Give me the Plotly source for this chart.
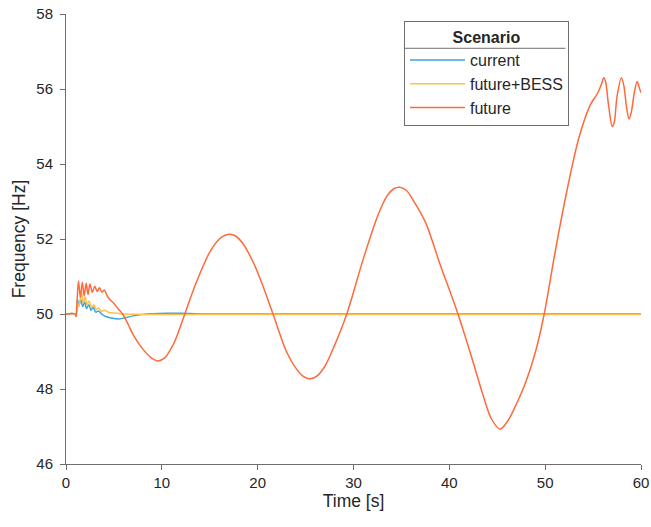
import plotly.graph_objects as go

# future scenario
t_future = [0, 0.95, 1.05, 1.15, 1.3, 1.5, 1.7, 1.9, 2.1, 2.3, 2.5, 2.75, 3.0, 3.25, 3.5, 3.75,
            4.0, 4.3, 4.6, 5.0, 5.5, 5.9, 6.5, 7.0, 8.0, 8.9, 9.6, 10.3, 10.9, 11.4, 12.4,
            13.5, 15, 16, 16.6, 17.1, 17.7, 18.4, 19.5, 20.5, 21.6,
            23, 24, 24.8, 25.5, 26.2, 27, 28, 29.3,
            31, 32.5, 33.5, 34.2, 34.8, 35.5, 36.3, 37.5, 39, 40.9,
            42.5, 43.5, 44.4, 45.3, 46.1, 47, 48, 49, 49.9,
            51, 52.2, 53.5, 54.7, 55.5, 55.9, 56.1, 56.3, 56.6, 57.0, 57.2, 57.5, 57.95,
            58.2, 58.5, 58.75, 59.0, 59.3, 59.6, 59.8, 60]
f_future = [50, 50, 49.93, 50.3, 50.88, 50.45, 50.85, 50.48, 50.82, 50.52, 50.80, 50.58, 50.74,
            50.6, 50.7, 50.58, 50.64, 50.48, 50.38, 50.28, 50.12, 50.0, 49.72, 49.45, 49.07,
            48.83, 48.75, 48.83, 49.05, 49.3, 50.0,
            50.78, 51.65, 52.0, 52.1, 52.13, 52.08, 51.9, 51.4, 50.78, 50.0,
            49.0, 48.55, 48.33, 48.27, 48.35, 48.6, 49.15, 50.0,
            51.45, 52.6, 53.15, 53.34, 53.38, 53.3, 53.0, 52.45, 51.35, 50.0,
            48.7, 47.85, 47.2, 46.93, 47.15, 47.6, 48.2, 49.0, 50.0,
            51.6, 53.2, 54.68, 55.57, 55.9, 56.15, 56.3, 56.2, 55.6, 55.0, 55.1, 55.8, 56.3,
            56.1, 55.5, 55.2, 55.4, 55.9, 56.2, 56.05, 55.9]

# current scenario
t_current = [0, 0.95, 1.05, 1.2, 1.35, 1.55, 1.75, 1.95, 2.15, 2.4, 2.6, 2.85, 3.1, 3.4, 3.8,
             4.3, 5.0, 5.5, 6.2, 7, 8, 9, 10.5, 12, 14, 20, 30, 40, 50, 60]
f_current = [50, 50, 49.95, 50.38, 50.22, 50.38, 50.2, 50.32, 50.15, 50.25, 50.1, 50.18, 50.05,
             50.08, 49.98, 49.92, 49.88, 49.87, 49.9, 49.95, 49.99, 50.01, 50.02, 50.02, 50.0,
             50.0, 50.0, 50.0, 50.0, 50.0]

# future+BESS scenario
t_bess = [0, 0.95, 1.05, 1.2, 1.35, 1.6, 1.8, 2.0, 2.2, 2.4, 2.65, 2.9, 3.15, 3.4, 3.7, 4.0,
          4.5, 5.0, 6, 8, 20, 30, 40, 50, 60]
f_bess = [50, 50, 49.95, 50.3, 50.2, 50.6, 50.3, 50.45, 50.25, 50.35, 50.18, 50.25, 50.12,
          50.16, 50.07, 50.1, 50.04, 50.03, 50.0, 49.99, 49.99, 49.99, 49.99, 49.99, 49.99]

x_ticks = [0, 10, 20, 30, 40, 50, 60]
y_ticks = [46, 48, 50, 52, 54, 56, 58]

FONT = "Liberation Sans, Arial, sans-serif"
TXT = "#262626"
AX = "#6e6e6e"

fig = go.Figure()
fig.add_trace(go.Scatter(x=t_current, y=f_current, mode="lines", name="current",
                         line=dict(color="#3BA3DD", width=1.5, shape="spline", smoothing=0.9)))
fig.add_trace(go.Scatter(x=t_bess, y=f_bess, mode="lines", name="future+BESS",
                         line=dict(color="#FFC04D", width=1.5, shape="spline", smoothing=0.9)))
fig.add_trace(go.Scatter(x=t_future, y=f_future, mode="lines", name="future",
                         line=dict(color="#FF6A3A", width=1.5, shape="spline", smoothing=0.9)))

axis_common = dict(showgrid=False, zeroline=False, showline=True, linecolor=AX,
                   linewidth=1, ticks="outside", ticklen=5, tickcolor=AX,
                   tickfont=dict(size=15, color=TXT, family=FONT), mirror=False,
                   automargin=False)

fig.update_xaxes(range=[0, 60], tickvals=x_ticks,
                 title=dict(text="Time [s]", font=dict(size=17.5, color=TXT, family=FONT),
                            standoff=4),
                 **axis_common)
fig.update_yaxes(range=[46, 58], tickvals=y_ticks, ticklabelstandoff=4,
                 title=dict(text="Frequency [Hz]", font=dict(size=17.5, color=TXT, family=FONT),
                            standoff=6),
                 **axis_common)

# separator line between legend title and entries
fig.add_shape(type="line", xref="paper", yref="paper",
              x0=0.5878, x1=0.8687, y0=0.9238, y1=0.9238,
              line=dict(color=AX, width=1))

fig.update_layout(
    width=651, height=527,
    margin=dict(l=66, r=10, t=14, b=63),
    plot_bgcolor="white", paper_bgcolor="white",
    font=dict(family=FONT, color=TXT),
    legend=dict(
        x=0.5878, y=0.984, xanchor="left", yanchor="top",
        bordercolor=AX, borderwidth=1, bgcolor="rgba(255,255,255,0)",
        font=dict(size=16, color=TXT, family=FONT),
        title=dict(text="<b>Scenario</b>", side="top center",
                   font=dict(size=16, color=TXT, family=FONT)),
        itemwidth=55, tracegroupgap=0,
    ),
)

fig.write_html("out.html")
